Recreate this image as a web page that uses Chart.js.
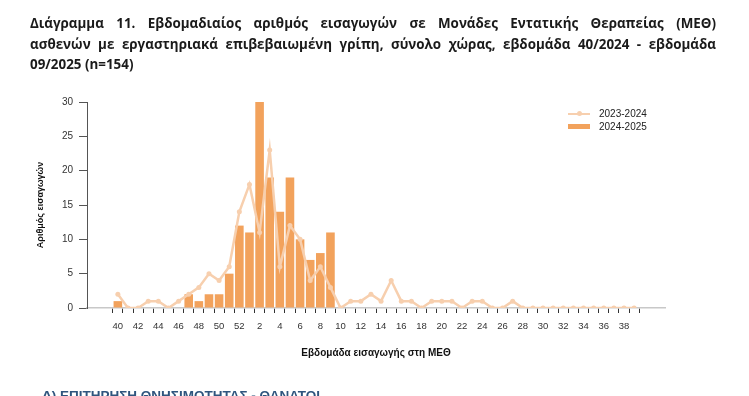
<!DOCTYPE html>
<html>
<head>
<meta charset="utf-8">
<script src="https://cdn.jsdelivr.net/npm/chart.js@4/dist/chart.umd.min.js"></script>
<style>
  html, body { margin: 0; padding: 0; background: #fff; }
  body { width: 749px; height: 396px; position: relative; overflow: hidden; }
  #c { position: absolute; left: 0; top: 0; }
  #title { position: absolute; left: 30px; top: 13px; width: 686px; font-family: "Open Sans", "Noto Sans", sans-serif; font-weight: 700; font-size: 13.4px; line-height: 20.5px; color: #1a1a1a; }
  #title .j { text-align: justify; text-align-last: justify; }
  #legend { position: absolute; left: 568px; top: 107px; font-family: "Liberation Sans", Arial, sans-serif; font-size: 10px; color: #222; }
  .row { height: 13px; display: flex; align-items: center; }
  .sw { width: 22px; height: 13px; position: relative; margin-right: 9px; }
  .ln { position: absolute; left: 0; top: 5.5px; width: 22px; height: 2px; background: #F7CFAE; }
  .dot { position: absolute; left: 8.5px; top: 4px; width: 5px; height: 5px; border-radius: 50%; background: #F7CFAE; }
  .bar { position: absolute; left: 0; top: 4px; width: 22px; height: 5px; background: #F2A25C; }
  #bottom { position: absolute; left: 42px; top: 388px; font-family: "Liberation Sans", Arial, sans-serif; font-weight: 700; font-size: 13.5px; color: #2F557E; white-space: nowrap; }
</style>
</head>
<body>
<canvas id="c" width="749" height="396"></canvas>
<div id="title">
  <div class="j">Διάγραμμα 11. Εβδομαδιαίος αριθμός εισαγωγών σε Μονάδες Εντατικής Θεραπείας (ΜΕΘ)</div>
  <div class="j">ασθενών με εργαστηριακά επιβεβαιωμένη γρίπη, σύνολο χώρας, εβδομάδα 40/2024 - εβδομάδα</div>
  <div>09/2025 (n=154)</div>
</div>
<div id="legend">
  <div class="row"><div class="sw"><div class="ln"></div><div class="dot"></div></div><span>2023-2024</span></div>
  <div class="row"><div class="sw"><div class="bar"></div></div><span>2024-2025</span></div>
</div>
<div id="bottom">Δ) ΕΠΙΤΗΡΗΣΗ ΘΝΗΣΙΜΟΤΗΤΑΣ - ΘΑΝΑΤΟΙ</div>
<script>
// Weeks 40..52 then 1..39
const weeks = [40,41,42,43,44,45,46,47,48,49,50,51,52,1,2,3,4,5,6,7,8,9,10,11,12,13,14,15,16,17,18,19,20,21,22,23,24,25,26,27,28,29,30,31,32,33,34,35,36,37,38,39];
// 2024-2025 season, weeks 40/2024 .. 09/2025 (n=154)
const season2425 = [1,0,0,0,0,0,0,2,1,2,2,5,12,11,30,19,14,19,10,7,8,11];
// 2023-2024 season, weeks 40 .. 39
const season2324 = [2,0,0,1,1,0,1,2,3,5,4,6,14,18,11,23,6,12,10,4,6,3,0,1,1,2,1,4,1,1,0,1,1,1,0,1,1,0,0,1,0,0,0,0,0,0,0,0,0,0,0,0];
const yTicks = [0,5,10,15,20,25,30];
const seriesNames = ['2023-2024','2024-2025'];
const xTitle = 'Εβδομάδα εισαγωγής στη ΜΕΘ';
const yTitle = 'Αριθμός εισαγωγών';

const lineColor = '#F7CFAE';
const barColor = '#F2A25C';

new Chart(document.getElementById('c'), {
  type: 'bar',
  data: {
    datasets: [
      {
        type: 'line',
        label: seriesNames[0],
        data: season2324.map((v, i) => ({x: i, y: v})),
        borderColor: lineColor,
        backgroundColor: lineColor,
        borderWidth: 2.5,
        pointRadius: 2.5,
        pointBorderWidth: 0,
        pointBackgroundColor: lineColor,
        tension: 0,
        order: 0
      },
      {
        type: 'bar',
        label: seriesNames[1],
        data: season2425.map((v, i) => ({x: i, y: v})),
        backgroundColor: barColor,
        borderWidth: 0,
        barPercentage: 0.85,
        categoryPercentage: 1,
        order: 1
      }
    ]
  },
  options: {
    responsive: false,
    animation: false,
    layout: { padding: { left: 35, right: 84, top: 102, bottom: 37 } },
    plugins: { legend: { display: false }, tooltip: { enabled: false } },
    scales: {
      x: {
        type: 'linear',
        min: -2.5,
        max: weeks.length - 1 + 2.5,
        afterBuildTicks: (s) => { s.ticks = weeks.map((w, i) => ({value: i})); },
        afterFit: (s) => { s.height = 51; },
        border: { display: true, color: '#c8c8c8', width: 1.5 },
        grid: { display: true, drawOnChartArea: false, drawTicks: true, tickLength: 5, tickColor: '#333', tickWidth: 1 },
        ticks: {
          autoSkip: false,
          maxRotation: 0,
          padding: 8,
          color: '#333',
          font: { family: 'Liberation Sans', size: 9.5 },
          callback: (v) => { const w = weeks[v]; return (w !== undefined && w % 2 === 0) ? String(w) : ''; }
        },
        title: { display: true, text: xTitle, padding: 0, color: '#111', font: { family: 'Liberation Sans', size: 10, weight: 'bold' } }
      },
      y: {
        min: 0,
        max: 30,
        afterBuildTicks: (s) => { s.ticks = yTicks.map(v => ({value: v})); },
        afterFit: (s) => { s.width = 52; },
        border: { display: true, color: '#555', width: 1 },
        grid: { display: true, drawOnChartArea: false, drawTicks: true, tickLength: 8, tickColor: '#555' },
        ticks: { padding: 6, color: '#333', font: { family: 'Liberation Sans', size: 10 } },
        title: { display: true, text: yTitle, padding: 0, color: '#111', font: { family: 'Liberation Sans', size: 9, weight: 'bold' } }
      }
    }
  }
});
</script>
</body>
</html>
